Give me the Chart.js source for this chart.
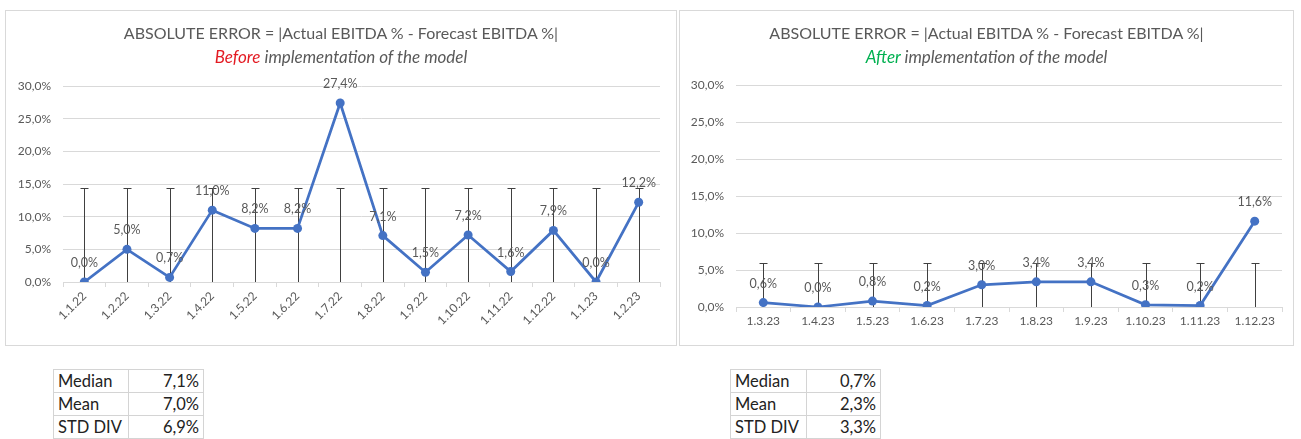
<!DOCTYPE html>
<html>
<head>
<meta charset="utf-8">
<script src="https://cdn.jsdelivr.net/npm/chart.js@4.4.0/dist/chart.umd.min.js"></script>
<style>
  body { margin: 0; background: #fff; font-family: Lato, "Open Sans", sans-serif; }
  .box { position: absolute; border: 1px solid #d9d9d9; background: #fff; }
  .box canvas { position: absolute; left: 0; top: 0; }
  .title { position: absolute; left: 0; right: 0; text-align: center; color: #595959; }
  .t1 { top: 12px; font-size: 16px; }
  .t2 { top: 35px; font-size: 17px; font-style: italic; }
  table { position: absolute; border-collapse: collapse; font-size: 16.5px; color: #222; }
  td { border: 1px solid #d4d4d4; height: 22px; padding: 0 4px; }
  td.v { text-align: right; }
</style>
</head>
<body>

<div class="box" id="boxBefore" style="left:5px; top:10px; width:670px; height:334px;">
  <canvas id="chartBefore" width="670" height="334"></canvas>
  <div class="title t1">ABSOLUTE ERROR = |Actual EBITDA % - Forecast EBITDA %|</div>
  <div class="title t2"><span style="color:#e31b23">Before</span> implementation of the model</div>
</div>

<div class="box" id="boxAfter" style="left:679px; top:10px; width:613px; height:334px;">
  <canvas id="chartAfter" width="613" height="334"></canvas>
  <div class="title t1">ABSOLUTE ERROR = |Actual EBITDA % - Forecast EBITDA %|</div>
  <div class="title t2"><span style="color:#00b050">After</span> implementation of the model</div>
</div>

<table id="statsBefore" style="left:53px; top:369px;"></table>
<table id="statsAfter" style="left:730px; top:369px;"></table>

<script>
// absolute error per month, in %
const monthsBefore = ["1.1.22", "1.2.22", "1.3.22", "1.4.22", "1.5.22", "1.6.22", "1.7.22",
  "1.8.22", "1.9.22", "1.10.22", "1.11.22", "1.12.22", "1.1.23", "1.2.23"];
const errorBefore = [0.0, 5.0, 0.7, 11.0, 8.2, 8.2, 27.4, 7.1, 1.5, 7.2, 1.6, 7.9, 0.0, 12.2];
const bandBefore = [14.4, 14.4, 14.4, 14.4, 14.4, 14.4, 14.4, 14.4, 14.4, 14.4, 14.4, 14.4, 14.4, 14.4];

const monthsAfter = ["1.3.23", "1.4.23", "1.5.23", "1.6.23", "1.7.23", "1.8.23", "1.9.23",
  "1.10.23", "1.11.23", "1.12.23"];
const errorAfter = [0.6, 0.0, 0.8, 0.2, 3.0, 3.4, 3.4, 0.3, 0.2, 11.6];
const bandAfter = [5.9, 5.9, 5.9, 5.9, 5.9, 5.9, 5.9, 5.9, 5.9, 5.9];

const statLabels = ["Median", "Mean", "STD DIV"];
const statsBefore = [7.1, 7.0, 6.9];
const statsAfter = [0.7, 2.3, 3.3];

const yTicks = [0, 5, 10, 15, 20, 25, 30];

const fmt = (v) => v.toFixed(1).replace(".", ",") + "%";
const BLUE = "#4472c4";
const GREY = "#595959";
const FONT = "Lato, 'Open Sans', sans-serif";

// vertical bars from 0 up to the band value, with a small cap on top
const bandPlugin = {
  id: "bands",
  beforeDatasetsDraw(chart, args, opts) {
    const { ctx, scales } = chart;
    const meta = chart.getDatasetMeta(0);
    ctx.save();
    ctx.strokeStyle = "#404040";
    ctx.lineWidth = 1;
    opts.values.forEach((v, i) => {
      const x = Math.round(meta.data[i].x) + 0.5;
      const y0 = scales.y.getPixelForValue(0);
      const y1 = Math.round(scales.y.getPixelForValue(v)) + 0.5;
      ctx.beginPath();
      ctx.moveTo(x, y0);
      ctx.lineTo(x, y1);
      ctx.moveTo(x - 4, y1);
      ctx.lineTo(x + 4, y1);
      ctx.stroke();
    });
    ctx.restore();
  },
};

// value labels above each point
const labelPlugin = {
  id: "pointLabels",
  afterDatasetsDraw(chart) {
    const { ctx } = chart;
    const meta = chart.getDatasetMeta(0);
    const values = chart.data.datasets[0].data;
    ctx.save();
    ctx.font = "12.5px " + FONT;
    ctx.fillStyle = GREY;
    ctx.textAlign = "center";
    ctx.textBaseline = "middle";
    meta.data.forEach((pt, i) => {
      ctx.fillText(fmt(values[i]), pt.x, pt.y - 19);
    });
    ctx.restore();
  },
};

function makeChart(id, labels, values, bands, plot) {
  return new Chart(document.getElementById(id), {
    type: "line",
    data: {
      labels: labels,
      datasets: [
        {
          data: values,
          borderColor: BLUE,
          backgroundColor: BLUE,
          borderWidth: 2.75,
          pointRadius: 4.5,
          pointBackgroundColor: BLUE,
          pointBorderWidth: 0,
          tension: 0,
        },
      ],
    },
    plugins: [bandPlugin, labelPlugin],
    options: {
      responsive: false,
      animation: false,
      layout: { padding: { top: plot.top, right: plot.right, left: 0, bottom: 0 } },
      plugins: {
        legend: { display: false },
        tooltip: { enabled: false },
        bands: { values: bands },
      },
      scales: {
        x: {
          offset: true,
          grid: {
            offset: true,
            drawOnChartArea: false,
            drawTicks: true,
            tickLength: 5,
            color: "#d9d9d9",
          },
          border: { color: "#d9d9d9" },
          ticks: {
            color: GREY,
            font: { family: FONT, size: 12 },
            minRotation: plot.rotate,
            maxRotation: plot.rotate,
            autoSkip: false,
            padding: 2,
          },
          afterFit(scale) { scale.height = plot.xHeight; },
        },
        y: {
          min: 0,
          max: 30,
          afterBuildTicks(scale) { scale.ticks = yTicks.map((v) => ({ value: v })); },
          grid: { color: "#d9d9d9", drawTicks: false },
          border: { display: false },
          ticks: {
            color: GREY,
            font: { family: FONT, size: 12 },
            padding: 12,
            callback: (v) => fmt(v),
          },
          afterFit(scale) { scale.width = plot.yWidth; },
        },
      },
    },
  });
}

makeChart("chartBefore", monthsBefore, errorBefore, bandBefore,
  { top: 75, right: 16, yWidth: 57, xHeight: 63, rotate: 45 });
makeChart("chartAfter", monthsAfter, errorAfter, bandAfter,
  { top: 74, right: 11, yWidth: 56, xHeight: 38, rotate: 0 });

// summary tables under each chart
function fillTable(id, values, widths) {
  const table = document.getElementById(id);
  statLabels.forEach((name, i) => {
    const tr = document.createElement("tr");
    tr.innerHTML = '<td style="width:' + widths[0] + 'px">' + name + '</td>' +
      '<td class="v" style="width:' + widths[1] + 'px">' + fmt(values[i]) + '</td>';
    table.appendChild(tr);
  });
}
fillTable("statsBefore", statsBefore, [66, 66]);
fillTable("statsAfter", statsAfter, [67, 65]);
</script>
</body>
</html>
